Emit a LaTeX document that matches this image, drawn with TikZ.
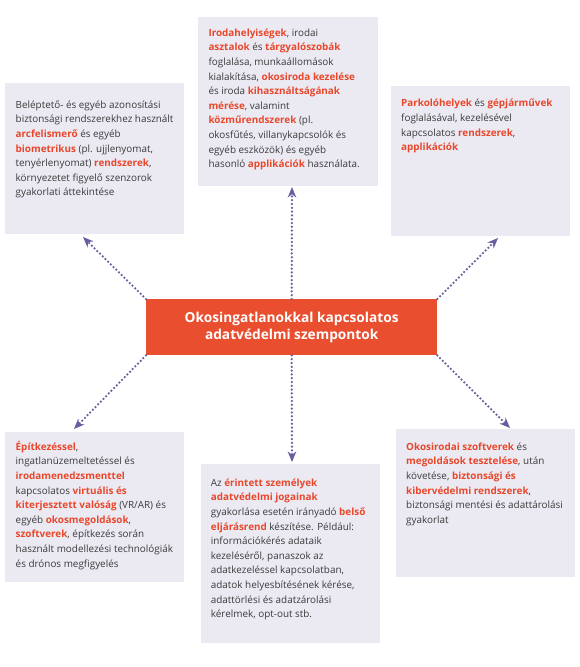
\documentclass[tikz,border=0pt]{standalone}
\usepackage{fontspec}
\setmainfont{Open Sans}
\usetikzlibrary{arrows.meta}
\definecolor{boxfill}{HTML}{EBEAF3}
\definecolor{redfill}{HTML}{E94E2F}
\definecolor{hlred}{HTML}{E9472B}
\definecolor{txt}{HTML}{3B3B3B}
\definecolor{arr}{HTML}{6A5C9E}
\newcommand{\hl}[1]{\textbf{\textcolor{hlred}{#1}}}
\tikzset{
  panel/.style={fill=boxfill, draw=none, anchor=north west, inner sep=0pt},
  ptext/.style={anchor=north west, inner sep=0pt, align=left, text=txt,
    font=\fontsize{9.9}{14.6}\selectfont},
  centerbox/.style={fill=redfill, draw=none, anchor=north west, inner sep=0pt,
    minimum width=291pt, minimum height=56pt},
  ctext/.style={text=white, align=center, font=\fontsize{13.7}{17.5}\selectfont\bfseries},
  conn/.style={arr, line width=2.5pt, dash pattern=on 0pt off 3.8pt, line cap=round,
    -{Stealth[length=10.5pt,width=8.5pt]}}
}
\begin{document}
\begin{tikzpicture}[x=1pt,y=-1pt]
\useasboundingbox (0,0) rectangle (580,667);
% panels
\node[panel, minimum width=179pt, minimum height=151pt] (tl) at (5,83) {};
\node[panel, minimum width=180pt, minimum height=169pt] (tc) at (198,17) {};
\node[panel, minimum width=179pt, minimum height=150pt] (tr) at (391,86) {};
\node[panel, minimum width=179pt, minimum height=150pt] (bl) at (5,432) {};
\node[panel, minimum width=179pt, minimum height=179pt] (bc) at (201,464) {};
\node[panel, minimum width=179pt, minimum height=148pt] (br) at (396,429) {};
% center
\node[centerbox] (c) at (146,299) {};
\node[ctext] (ct) at (c.center) {Okosingatlanokkal kapcsolatos\\adatvédelmi szempontok};
% texts
\node[ptext] (tlt) at (15.5,97.8) {\strut Beléptető- és egyéb azonosítási\\
biztonsági rendszerekhez használt\\
\hl{arcfelismerő} és egyéb\\
\hl{biometrikus} (pl. ujjlenyomat,\\
tenyérlenyomat) \hl{rendszerek},\\
környezetet figyelő szenzorok\\
gyakorlati áttekintése};
\node[ptext] (tct) at (208.3,25.8) {\strut \hl{Irodahelyiségek}, irodai\\
\hl{asztalok} és \hl{tárgyalószobák}\\
foglalása, munkaállomások\\
kialakítása, \hl{okosiroda kezelése}\\
és iroda \hl{kihasználtságának}\\
\hl{mérése}, valamint\\
\hl{közműrendszerek} (pl.\\
okosfűtés, villanykapcsolók és\\
egyéb eszközök) és egyéb\\
hasonló \hl{applikációk} használata.};
\node[ptext] (trt) at (401,96.5) {\strut \hl{Parkolóhelyek} és \hl{gépjárművek}\\
foglalásával, kezelésével\\
kapcsolatos \hl{rendszerek},\\
\hl{applikációk}};
\node[ptext] (blt) at (15.5,439.8) {\strut \hl{Építkezéssel},\\
ingatlanüzemeltetéssel és\\
\hl{irodamenedzsmenttel}\\
kapcsolatos \hl{virtuális és}\\
\hl{kiterjesztett valóság} (VR/AR) és\\
egyéb \hl{okosmegoldások},\\
\hl{szoftverek}, építkezés során\\
használt modellezési technológiák\\
és drónos megfigyelés};
\node[ptext] (bct) at (210.7,475.8) {\strut Az \hl{érintett személyek}\\
\hl{adatvédelmi jogainak}\\
gyakorlása esetén irányadó \hl{belső}\\
\hl{eljárásrend} készítése. Például:\\
információkérés adataik\\
kezeléséről, panaszok az\\
adatkezeléssel kapcsolatban,\\
adatok helyesbítésének kérése,\\
adattörlési és adatzárolási\\
kérelmek, opt-out stb.};
\node[ptext] (brt) at (406,439.8) {\strut \hl{Okosirodai szoftverek} és\\
\hl{megoldások tesztelése}, után\\
követése, \hl{biztonsági és}\\
\hl{kibervédelmi rendszerek},\\
biztonsági mentési és adattárolási\\
gyakorlat};
% arrow end points
\coordinate (atl) at (83,237);
\coordinate (atc) at (292,187);
\coordinate (atr) at (498,238);
\coordinate (abl) at (74,429);
\coordinate (abc) at (292,462);
\coordinate (abr) at (510,428);
% connectors
\draw[conn] (c.north west) -- (atl);
\draw[conn] (c.north) -- (atc);
\draw[conn] (c.north east) -- (atr);
\draw[conn] (c.south west) -- (abl);
\draw[conn] (c.south) -- (abc);
\draw[conn] (c.south east) -- (abr);
\end{tikzpicture}
\end{document}
